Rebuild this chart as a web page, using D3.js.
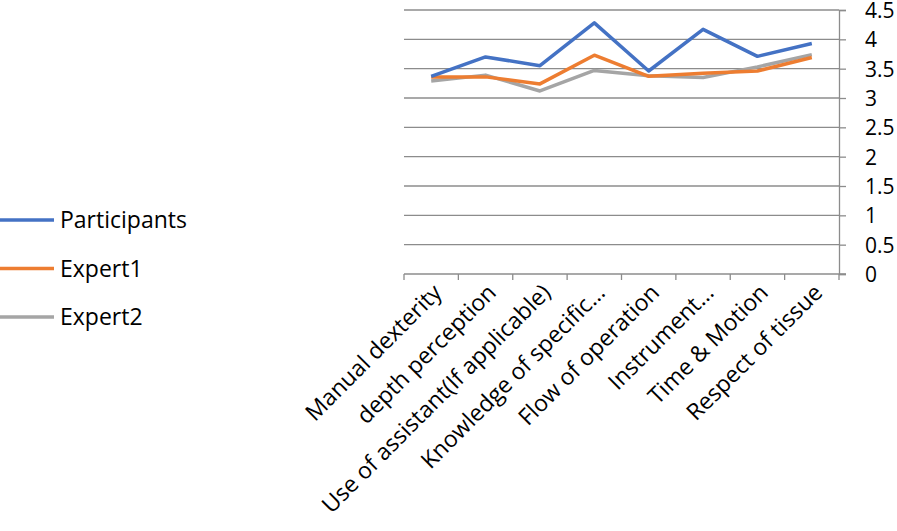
<!DOCTYPE html>
<html>
<head>
<meta charset="utf-8">
<script src="https://cdn.jsdelivr.net/npm/d3@7"></script>
<style>
  body { margin: 0; background: #fff; }
  text { font-family: "Open Sans", "Noto Sans", sans-serif; fill: #000; }
</style>
</head>
<body>
<svg id="chart" width="897" height="531"></svg>
<script>
// chart data
let categories = ["Manual dexterity", "depth perception", "Use of assistant(If applicable)",
  "Knowledge of specific…", "Flow of operation", "Instrument…", "Time & Motion", "Respect of tissue"];
let participants = [3.37, 3.70, 3.55, 4.28, 3.46, 4.17, 3.71, 3.93];
let expert1 = [3.36, 3.36, 3.24, 3.73, 3.37, 3.42, 3.46, 3.69];
let expert2 = [3.29, 3.39, 3.12, 3.47, 3.38, 3.35, 3.53, 3.74];
let yTicks = [0, 0.5, 1, 1.5, 2, 2.5, 3, 3.5, 4, 4.5];

let series = [
  {name: "Participants", values: participants, color: "#4472C4"},
  {name: "Expert1", values: expert1, color: "#ED7D31"},
  {name: "Expert2", values: expert2, color: "#A5A5A5"}
];

let margin = {left: 404, right: 58, top: 10, bottom: 257};
let width = 897 - margin.left - margin.right;
let height = 531 - margin.top - margin.bottom;

let svg = d3.select("#chart");
let g = svg.append("g").attr("transform", "translate(" + margin.left + "," + margin.top + ")");

let x = d3.scaleBand().domain(categories).range([0, width]);
let y = d3.scaleLinear().domain([0, 4.5]).range([height, 0]);

// gridlines
g.append("g")
  .selectAll("line")
  .data(yTicks.filter(d => d > 0))
  .enter().append("line")
    .attr("x1", 0).attr("x2", width)
    .attr("y1", d => y(d)).attr("y2", d => y(d))
    .attr("stroke", "#8c8c8c").attr("stroke-width", 1.3);

// right axis
let yAxis = d3.axisRight(y).tickValues(yTicks).tickSize(7).tickPadding(19).tickFormat(d3.format("~g"));
let ya = g.append("g").attr("transform", "translate(" + width + ",0)").call(yAxis);
ya.select(".domain").attr("stroke", "#8c8c8c").attr("stroke-width", 1.3);
ya.selectAll(".tick line").attr("stroke", "#8c8c8c").attr("stroke-width", 1.3);
ya.selectAll("text").style("font-size", "21px").attr("fill", "#000").attr("dy", "0.36em");

// bottom axis: ticks at band edges
let edges = d3.range(categories.length + 1).map(i => i * x.step());
let xa = g.append("g").attr("transform", "translate(0," + height + ")");
xa.append("line").attr("x1", 0).attr("x2", width + 7)
  .attr("stroke", "#8c8c8c").attr("stroke-width", 1.3);
xa.selectAll(".edge").data(edges).enter().append("line")
  .attr("class", "edge")
  .attr("x1", d => d).attr("x2", d => d).attr("y1", 0).attr("y2", 6)
  .attr("stroke", "#8c8c8c").attr("stroke-width", 1.3);
xa.selectAll(".cat").data(categories).enter().append("text")
  .attr("class", "cat")
  .attr("text-anchor", "end")
  .style("font-size", "23px")
  .attr("transform", d => "translate(" + (x(d) + x.bandwidth() / 2 + 12) + ",20) rotate(-45)")
  .text(d => d);

// lines
let line = d3.line()
  .x((d, i) => x(categories[i]) + x.bandwidth() / 2)
  .y(d => y(d));

series.slice().reverse().forEach(s => {
  g.append("path")
    .datum(s.values)
    .attr("fill", "none")
    .attr("stroke", s.color)
    .attr("stroke-width", 3.5)
    .attr("stroke-linejoin", "round")
    .attr("d", line);
});

// legend
let legend = svg.append("g").attr("transform", "translate(0,220)");
series.forEach((s, i) => {
  let row = legend.append("g").attr("transform", "translate(0," + (i * 48.5) + ")");
  row.append("line").attr("x1", 0).attr("x2", 54).attr("y1", 0).attr("y2", 0)
    .attr("stroke", s.color).attr("stroke-width", 3.5);
  row.append("text").attr("x", 60).attr("y", 8).style("font-size", "23px").text(s.name);
});
</script>
</body>
</html>
